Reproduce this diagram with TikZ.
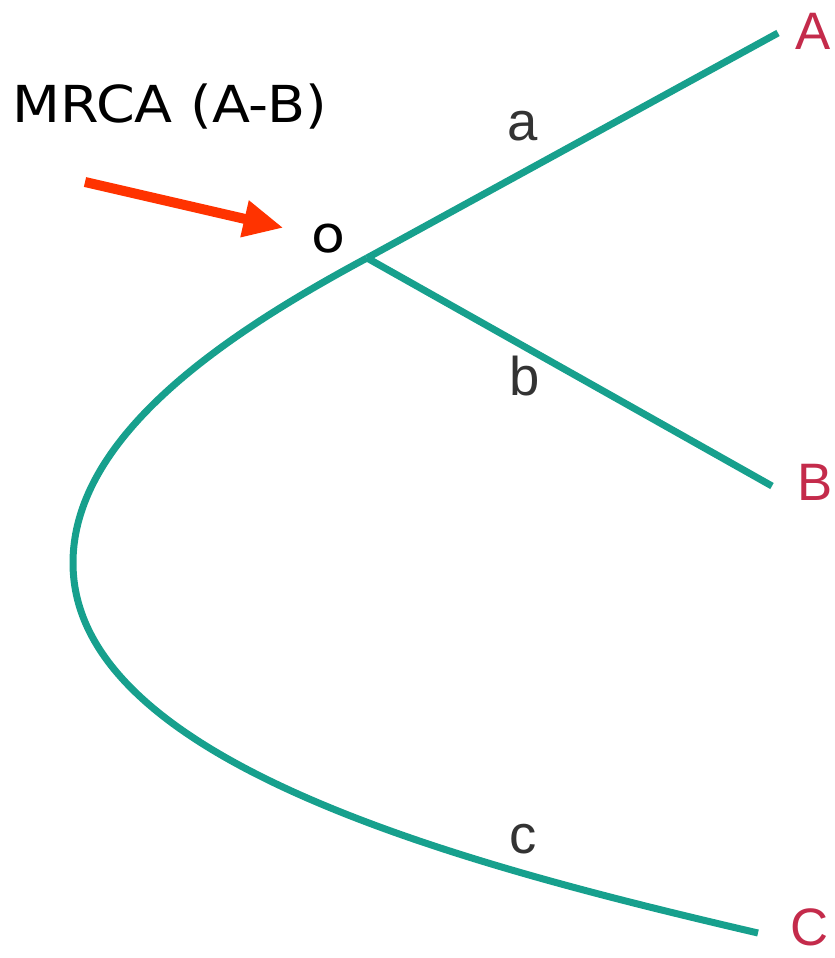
\documentclass[tikz,border=0pt]{standalone}
\usepackage{fontspec}
\setmainfont{Liberation Sans}
\newfontfamily\rotulo[FakeStretch=1.09]{DejaVu Sans}
\usepackage{tikz}
\usetikzlibrary{arrows.meta,positioning}
\definecolor{verdeRama}{HTML}{17A08D}
\definecolor{carmin}{HTML}{C42B4B}
\definecolor{naranja}{HTML}{FF3300}
\definecolor{tinta}{HTML}{333333}

\begin{document}
\begin{tikzpicture}[x={(0.02cm,0)},y={(0,-0.02cm)},
    rama/.style={draw=verdeRama,line width=0.14cm},
    hoja/.style={anchor=base west,inner sep=0pt,
                 font=\fontsize{30}{36}\selectfont\color{carmin}},
    etq/.style={anchor=base,inner sep=0pt,
                font=\fontsize{31}{36}\selectfont\color{tinta}},
    >={Triangle[length=0.8cm,width=0.7cm]}]
  \useasboundingbox (0,0) rectangle (835,958);
  % nudo y extremos de las ramas
  \coordinate (mrca) at (367,258);
  \coordinate (finA) at (778,33);
  \coordinate (finB) at (772,486);
  \coordinate (finC) at (758,933);
  \node[hoja] (A) at (795,49) {A};
  \node[hoja] (B) at (797,500) {B};
  \node[hoja] (C) at (790,945) {C};
  % ramas
  \draw[rama] (mrca) -- (finA);
  \draw[rama] (mrca) -- (finB);
  \draw[rama] (mrca) .. controls (233,330) and (73,433) .. (73,563)
                     .. controls (73,763) and (466,865) .. (finC);
  \node[etq] (a) at (523,140) {a};
  \node[etq] (b) at (525,395) {b};
  \node[etq] (c) at (523,853) {c};
  % ancestro comun
  \node[anchor=base,inner sep=0.3cm,font=\rotulo\fontsize{29}{34}\selectfont] (o) at (328,252) {o};
  \node[anchor=base west,inner sep=0pt,font=\rotulo\fontsize{29}{34}\selectfont] (mrcaTxt)
    at (12,122) {MRCA (A-B)};
  \coordinate (cola) at (85,182);
  \draw[->,naranja,line width=0.2cm,shorten >=0.25cm] (cola) -- (o);
\end{tikzpicture}
\end{document}
